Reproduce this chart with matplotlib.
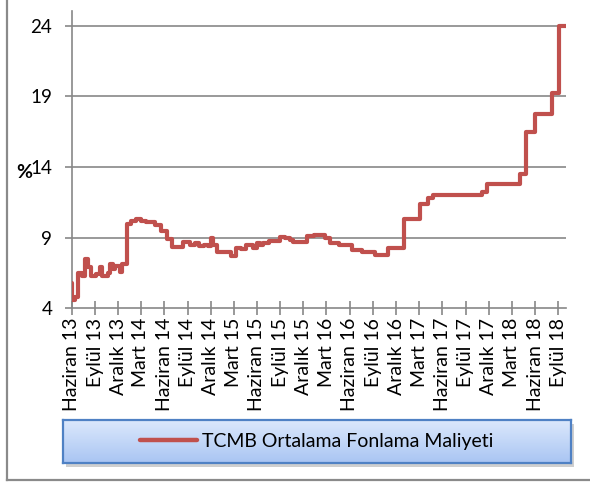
import matplotlib
matplotlib.use('Agg')
import matplotlib.pyplot as plt
import numpy as np
import pandas as pd
from matplotlib.lines import Line2D
from matplotlib.patches import Rectangle
from matplotlib.colors import LinearSegmentedColormap

plt.rcParams['font.family'] = ['Lato', 'DejaVu Sans']

# ---------------- data ----------------
series_name = 'TCMB Ortalama Fonlama Maliyeti'

change_dates = [
    '2013-06-01', '2013-06-03', '2013-06-14', '2013-06-25', '2013-07-10', '2013-07-25',
    '2013-08-03', '2013-08-18', '2013-09-05', '2013-09-20', '2013-09-28', '2013-10-22',
    '2013-10-30', '2013-11-11', '2013-11-19', '2013-12-08', '2013-12-16', '2014-01-03',
    '2014-01-20', '2014-02-10', '2014-03-01', '2014-03-20', '2014-04-25', '2014-05-20',
    '2014-06-10', '2014-07-01', '2014-08-12', '2014-09-10', '2014-10-01', '2014-10-15',
    '2014-11-05', '2014-11-20', '2014-12-01', '2014-12-08', '2014-12-25', '2015-02-20',
    '2015-03-12', '2015-04-01', '2015-04-20', '2015-05-15', '2015-06-01', '2015-06-15',
    '2015-06-25', '2015-07-20', '2015-09-01', '2015-09-20', '2015-10-10', '2015-10-20',
    '2015-12-15', '2016-01-10', '2016-02-25', '2016-03-15', '2016-04-20', '2016-05-20',
    '2016-06-10', '2016-07-20', '2016-09-10', '2016-10-28', '2016-11-25', '2016-12-30',
    '2017-03-03', '2017-04-05', '2017-04-25', '2017-11-05', '2017-11-25', '2018-04-01',
    '2018-04-28', '2018-06-01', '2018-08-05', '2018-09-02', '2018-10-01',
]
values = [
    5.8, 4.6, 4.8, 6.5, 6.3, 7.5,
    6.9, 6.3, 6.4, 6.9, 6.3, 6.5,
    7.1, 6.8, 7.0, 6.6, 7.1, 10.0,
    10.2, 10.35, 10.2, 10.1, 9.9, 9.5,
    8.9, 8.35, 8.7, 8.45, 8.6, 8.4,
    8.5, 8.4, 8.95, 8.5, 8.0, 7.7,
    8.25, 8.2, 8.45, 8.3, 8.6, 8.45,
    8.6, 8.75, 9.05, 8.95, 8.8, 8.7,
    9.1, 9.2, 8.95, 8.6, 8.5, 8.45,
    8.15, 7.95, 7.8, 8.25, 8.3, 10.35,
    11.4, 11.8, 12.0, 12.25, 12.8, 13.5,
    16.5, 17.75, 19.25, 24.0, 24.0,
]

tick_dates = pd.date_range('2013-06-01', '2018-09-01', freq='3MS')
tick_labels = [
    'Haziran 13', 'Eylül 13', 'Aralık 13', 'Mart 14', 'Haziran 14', 'Eylül 14',
    'Aralık 14', 'Mart 15', 'Haziran 15', 'Eylül 15', 'Aralık 15', 'Mart 16',
    'Haziran 16', 'Eylül 16', 'Aralık 16', 'Mart 17', 'Haziran 17', 'Eylül 17',
    'Aralık 17', 'Mart 18', 'Haziran 18', 'Eylül 18',
]
y_ticks = [4, 9, 14, 19, 24]
y_label = '%'

# ---------------- layout ----------------
W, H = 590, 482
fig = plt.figure(figsize=(W / 100, H / 100), dpi=100)


def fx(px):
    return px / W


def fy(py):
    return 1 - py / H


GRID = '#878787'
RED = '#c0504d'

ax = fig.add_axes([fx(71.7), fy(308.3), fx(566) - fx(71.7), fy(11.5) - fy(308.3)])
dates = pd.to_datetime(change_dates)
line, = ax.step(dates, values, where='post', color=RED, lw=3.0,
                solid_joinstyle='round', solid_capstyle='round',
                label=series_name, zorder=3)

ax.set_xlim(pd.Timestamp('2013-06-01'), pd.Timestamp('2018-10-01'))
ax.set_ylim(4, 25)
ax.set_yticks(y_ticks)
ax.set_yticklabels([str(v) for v in y_ticks], fontsize=13.5)
ax.set_xticks(tick_dates)
ax.set_xticklabels(tick_labels, rotation=90, fontsize=14)

for v in y_ticks[1:]:
    ax.axhline(v, color=GRID, lw=1.2, zorder=1)

for s in ['top', 'right']:
    ax.spines[s].set_visible(False)
for s in ['left', 'bottom']:
    ax.spines[s].set_color(GRID)
    ax.spines[s].set_linewidth(1.2)

ax.tick_params(axis='x', direction='inout', length=9.5, width=1.2, color=GRID, pad=2)
ax.tick_params(axis='y', direction='out', length=5, width=1.2, color=GRID, pad=9)
ax.patch.set_alpha(0)

fig.text(fx(24), fy(173), y_label, fontsize=14, fontweight='bold', ha='center', va='center')

# ---------------- legend box ----------------
bx0, by0, bx1, by1 = 63.3, 420, 570.7, 463
sax = fig.add_axes([fx(bx0 + 3), fy(by1 + 4), fx(bx1) - fx(bx0), fy(by0) - fy(by1)])
sax.set_axis_off()
sax.add_patch(Rectangle((0, 0), 1, 1, transform=sax.transAxes,
                        facecolor='#a0a0a0', alpha=0.5, edgecolor='none'))
sax.set_zorder(1)

lax = fig.add_axes([fx(bx0), fy(by1), fx(bx1) - fx(bx0), fy(by0) - fy(by1)])
lax.set_zorder(2)
grad = np.linspace(0, 1, 100).reshape(-1, 1)
cmap = LinearSegmentedColormap.from_list('g', ['#dde9fc', '#a9c5f3'])
lax.imshow(grad, aspect='auto', cmap=cmap, extent=[0, 1, 0, 1], origin='upper')
lax.set_xticks([])
lax.set_yticks([])
for s in lax.spines.values():
    s.set_color('#4f81c4')
    s.set_linewidth(1.6)
leg = lax.legend(handles=[line], loc='center', frameon=False, fontsize=14,
                 handlelength=2.9, handletextpad=0.3, borderaxespad=0,
                 bbox_to_anchor=(0.5, 0.5))
for lh in leg.get_lines():
    lh.set_linewidth(3.2)

# ---------------- outer frame (cropped chart border) ----------------
fig.add_artist(Line2D([fx(7), fx(7)], [fy(0), fy(480)], transform=fig.transFigure,
                      color='#8a8a8a', lw=1.6))
fig.add_artist(Line2D([fx(7), fx(590)], [fy(480), fy(480)], transform=fig.transFigure,
                      color='#8a8a8a', lw=1.6))

fig.savefig('out.png', dpi=100)
